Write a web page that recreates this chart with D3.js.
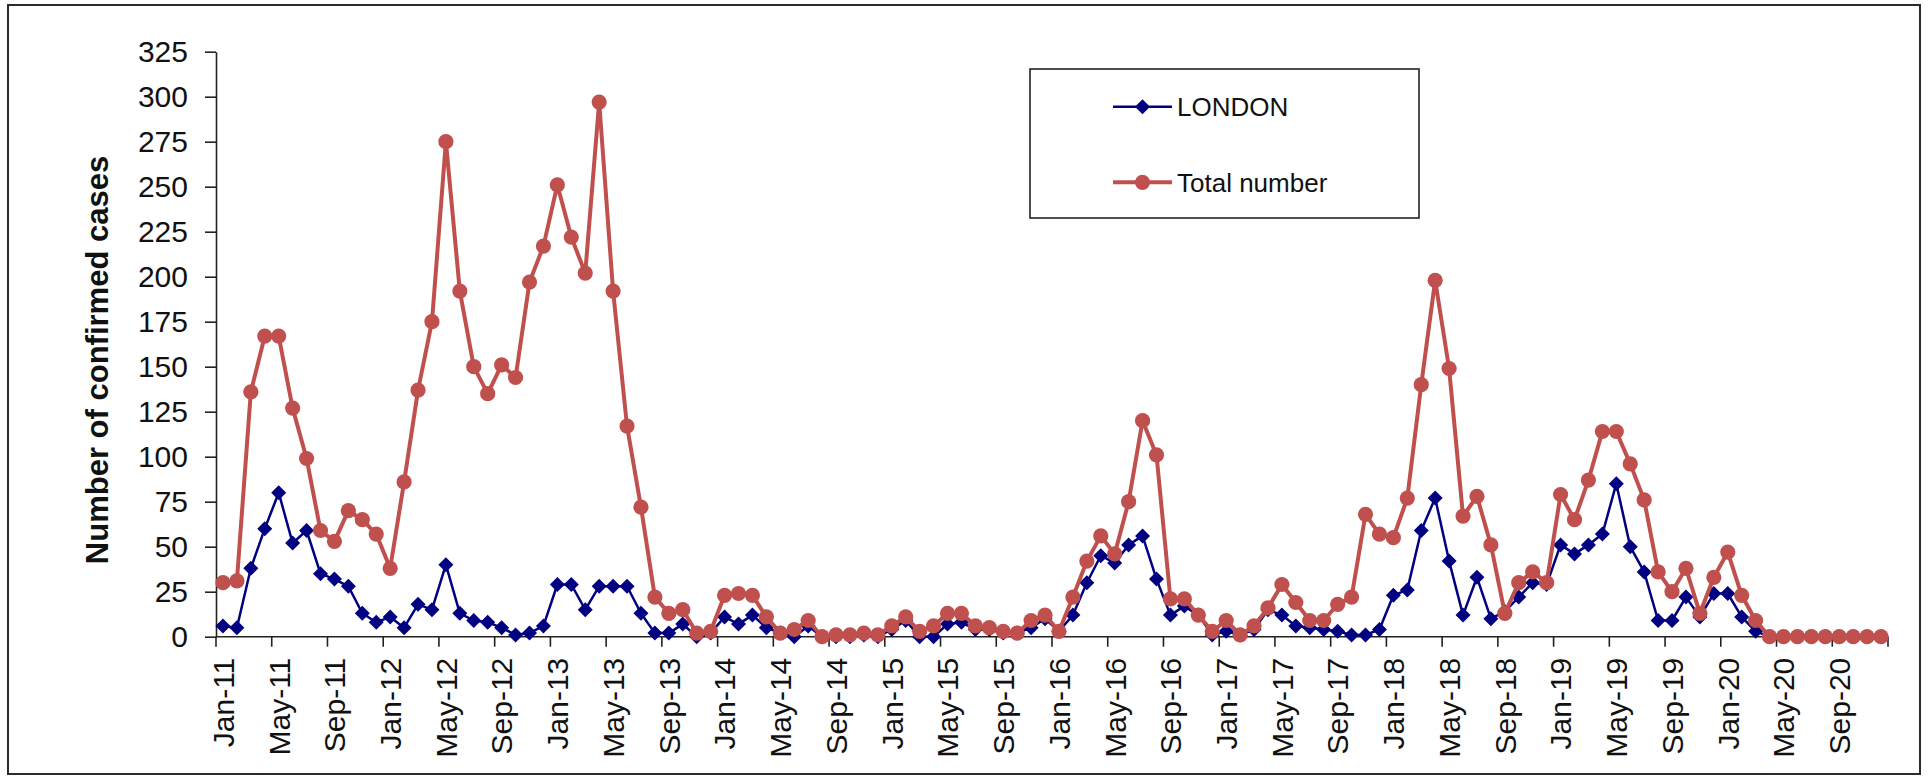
<!DOCTYPE html>
<html>
<head>
<meta charset="utf-8">
<script src="https://cdn.jsdelivr.net/npm/d3@7"></script>
<style>
  html, body { margin: 0; padding: 0; background: #fff; }
  svg { display: block; }
  text { font-family: "Liberation Sans", Arial, sans-serif; fill: #111; }
</style>
</head>
<body>
<div id="chart"></div>
<script>
// ---- Data ----
const yearSuffixes = ["11", "12", "13", "14", "15", "16", "17", "18", "19", "20"];
const monthNames = ["Jan", "Feb", "Mar", "Apr", "May", "Jun", "Jul", "Aug", "Sep", "Oct", "Nov", "Dec"];
const categories = yearSuffixes.flatMap(y => monthNames.map(m => m + "-" + y));
const tickLabels = yearSuffixes.flatMap(y => ["Jan-" + y, "May-" + y, "Sep-" + y]);
const yTicks = [0, 25, 50, 75, 100, 125, 150, 175, 200, 225, 250, 275, 300, 325];

const seriesNames = ["LONDON", "Total number"];

const london = [
  6, 5, 38, 60, 80, 52, 59, 35, 32, 28, 13, 8,
  11, 5, 18, 15, 40, 13, 9, 8, 5, 1, 2, 6,
  29, 29, 15, 28, 28, 28, 13, 2, 2, 7, 0, 2,
  11, 7, 12, 5, 2, 0, 6, 0, 0, 0, 1, 0,
  4, 9, 0, 0, 7, 8, 4, 4, 2, 2, 5, 10,
  3, 12, 30, 45, 41, 51, 56, 32, 12, 17, 12, 1,
  3, 1, 4, 15, 12, 6, 5, 4, 3, 1, 1, 4,
  23, 26, 59, 77, 42, 12, 33, 10, 14, 22, 30, 29,
  51, 46, 51, 57, 85, 50, 36, 9, 9, 22, 11, 24,
  24, 11, 3, 0, 0, 0, 0, 0, 0, 0, 0, 0
];

const total = [
  30, 31, 136, 167, 167, 127, 99, 59, 53, 70, 65, 57,
  38, 86, 137, 175, 275, 192, 150, 135, 151, 144, 197, 217,
  251, 222, 202, 297, 192, 117, 72, 22, 13, 15, 2, 3,
  23, 24, 23, 11, 2, 4, 9, 0, 1, 1, 2, 1,
  6, 11, 3, 6, 13, 13, 6, 5, 3, 2, 9, 12,
  3, 22, 42, 56, 46, 75, 120, 101, 21, 21, 12, 3,
  9, 1, 6, 16, 29, 19, 9, 9, 18, 22, 68, 57,
  55, 77, 140, 198, 149, 67, 78, 51, 13, 30, 36, 30,
  79, 65, 87, 114, 114, 96, 76, 36, 25, 38, 13, 33,
  47, 23, 9, 0, 0, 0, 0, 0, 0, 0, 0, 0
];

// ---- Layout ----
const W = 1928, H = 777;
const svg = d3.select("#chart").append("svg").attr("width", W).attr("height", H);

svg.append("rect").attr("x", 0).attr("y", 0).attr("width", W).attr("height", H).attr("fill", "#fff");
svg.append("rect").attr("x", 8).attr("y", 5).attr("width", 1912).attr("height", 769)
  .attr("fill", "none").attr("stroke", "#2a2a2a").attr("stroke-width", 2);

const x = d3.scaleBand().domain(categories).range([216, 1888]).padding(0);
const y = d3.scaleLinear().domain([0, 325]).range([636.7, 51.7]);
const cx = d => x(d) + x.bandwidth() / 2;

// Y axis
const yAxis = svg.append("g").attr("transform", "translate(216,0)")
  .call(d3.axisLeft(y).tickValues(yTicks).tickSize(11).tickPadding(17).tickSizeOuter(0));
yAxis.select(".domain").attr("stroke", "#222").attr("stroke-width", 1.6);
yAxis.selectAll(".tick line").attr("stroke", "#222").attr("stroke-width", 1.6);
yAxis.selectAll(".tick text").attr("font-size", 30).attr("font-family", "Liberation Sans, Arial, sans-serif").attr("fill", "#111");

// X axis (category axis, ticks at category boundaries every 4 months)
const xAxisG = svg.append("g").attr("transform", "translate(0," + y(0) + ")");
xAxisG.append("line").attr("x1", x.range()[0]).attr("x2", x.range()[1])
  .attr("y1", 0).attr("y2", 0).attr("stroke", "#222").attr("stroke-width", 1.6);
const boundaryCats = categories.filter((c, i) => i % 4 === 0);
xAxisG.selectAll("line.tk").data(boundaryCats).enter().append("line").attr("class", "tk")
  .attr("x1", d => x(d)).attr("x2", d => x(d)).attr("y1", 0).attr("y2", 10)
  .attr("stroke", "#222").attr("stroke-width", 1.6);
xAxisG.append("line").attr("x1", x.range()[1]).attr("x2", x.range()[1]).attr("y1", 0).attr("y2", 10)
  .attr("stroke", "#222").attr("stroke-width", 1.6);
xAxisG.selectAll("text.xl").data(tickLabels).enter().append("text").attr("class", "xl")
  .attr("transform", d => "translate(" + cx(d) + ",21) rotate(-90)")
  .attr("text-anchor", "end").attr("dy", "0.36em").attr("font-size", 30).text(d => d);

// Y title
svg.append("text").attr("transform", "translate(108,360) rotate(-90)")
  .attr("text-anchor", "middle").attr("font-size", 31).attr("font-weight", "bold")
  .text("Number of confirmed cases");

// Series
const blue = "#000080", red = "#C0504D";
const line = d3.line().x((d, i) => cx(categories[i])).y(d => y(d));
const diamond = "M0,-7.5L7.5,0L0,7.5L-7.5,0Z";

svg.append("path").datum(london).attr("d", line).attr("fill", "none")
  .attr("stroke", blue).attr("stroke-width", 2.5).attr("stroke-linejoin", "round");
svg.append("g").selectAll("path").data(london).enter().append("path")
  .attr("d", diamond).attr("transform", (d, i) => "translate(" + cx(categories[i]) + "," + y(d) + ")")
  .attr("fill", blue);

svg.append("path").datum(total).attr("d", line).attr("fill", "none")
  .attr("stroke", red).attr("stroke-width", 4).attr("stroke-linejoin", "round");
svg.append("g").selectAll("circle").data(total).enter().append("circle")
  .attr("cx", (d, i) => cx(categories[i])).attr("cy", d => y(d)).attr("r", 7.6)
  .attr("fill", red);

// Legend
const lg = svg.append("g");
lg.append("rect").attr("x", 1030).attr("y", 69).attr("width", 389).attr("height", 149)
  .attr("fill", "#fff").attr("stroke", "#222").attr("stroke-width", 1.6);
const legendItems = [
  { name: seriesNames[0], color: blue, yPos: 106.7, type: "diamond", w: 2.5 },
  { name: seriesNames[1], color: red, yPos: 182.3, type: "circle", w: 4 }
];
legendItems.forEach(it => {
  lg.append("line").attr("x1", 1113).attr("x2", 1172).attr("y1", it.yPos).attr("y2", it.yPos)
    .attr("stroke", it.color).attr("stroke-width", it.w);
  if (it.type === "diamond") {
    lg.append("path").attr("d", diamond).attr("transform", "translate(1142.5," + it.yPos + ")").attr("fill", it.color);
  } else {
    lg.append("circle").attr("cx", 1142.5).attr("cy", it.yPos).attr("r", 7.6).attr("fill", it.color);
  }
  lg.append("text").attr("x", 1177).attr("y", it.yPos + 9.3).attr("font-size", 26).text(it.name);
});
</script>
</body>
</html>
